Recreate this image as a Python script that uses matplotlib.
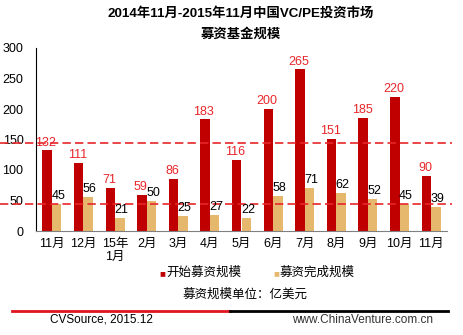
import matplotlib
matplotlib.use("Agg")
import matplotlib.pyplot as plt
import matplotlib.transforms as mtrans
from matplotlib.lines import Line2D
import numpy as np

# Datos del grafico
meses = ["11月", "12月", "15年\n1月", "2月", "3月", "4月", "5月", "6月", "7月", "8月", "9月", "10月", "11月"]
inicio = [132, 111, 71, 59, 86, 183, 116, 200, 265, 151, 185, 220, 90]
completado = [45, 56, 21, 50, 25, 27, 22, 58, 71, 62, 52, 45, 39]

plt.rcParams['font.family'] = ['Liberation Sans', 'Noto Sans CJK SC', 'DejaVu Sans']

rojo = '#C00000'
dorado = '#E6B86E'
rojo_txt = '#E8262A'

fig = plt.figure(figsize=(4.64, 3.35), dpi=100)
ax = fig.add_axes([36/464, 1-231/335, (447-36)/464, (231-48)/335])

x = np.arange(len(meses))
w = 0.3
ax.bar(x - w/2, inicio, width=w, color=rojo, zorder=2)
ax.bar(x + w/2, completado, width=w, color=dorado, zorder=2)

# etiquetas de valores
for i in range(len(meses)):
    ax.text(x[i] - w/2 - 0.04, inicio[i] + 3, str(inicio[i]), ha='center', va='bottom',
            fontsize=9, color=rojo_txt, zorder=4)
    ax.text(x[i] + w/2 + 0.05, completado[i] + 3, str(completado[i]), ha='center', va='bottom',
            fontsize=9, color='black', zorder=4)

# lineas de promedio (de borde a borde de la figura)
trans = mtrans.blended_transform_factory(fig.transFigure, ax.transData)
for val in [np.mean(inicio), np.mean(completado)]:
    ax.add_line(Line2D([0, 452/464], [val, val], transform=trans, color=rojo_txt,
                       linestyle=(0, (5, 2.5)), linewidth=1.2, zorder=3, clip_on=False))

ax.set_xlim(-0.5, len(meses) - 0.5)
ax.set_ylim(0, 300)
ax.set_yticks([0, 50, 100, 150, 200, 250, 300])
ax.set_xticks(x)
ax.set_xticklabels(meses, fontsize=9, linespacing=1.1)
ax.tick_params(axis='both', length=0, labelsize=9)
ax.tick_params(axis='y', pad=9)
ax.tick_params(axis='x', pad=5)
for s in ['top', 'right']:
    ax.spines[s].set_visible(False)
ax.spines['left'].set_color('black')
ax.spines['bottom'].set_color('#808080')

# titulo
fig.text(241/464, 1-13/335, "2014年11月-2015年11月中国VC/PE投资市场", ha='center', va='center',
         fontsize=9.6, fontweight='bold')
fig.text(241/464, 1-34/335, "募资基金规模", ha='center', va='center', fontsize=9.6, fontweight='bold')

# leyenda
fig.text(159/464, 1-273/335, "■", ha='left', va='center', fontsize=7, color=rojo)
fig.text(166/464, 1-273/335, "开始募资规模", ha='left', va='center', fontsize=9)
fig.text(273/464, 1-273/335, "■", ha='left', va='center', fontsize=7, color=dorado)
fig.text(280/464, 1-273/335, "募资完成规模", ha='left', va='center', fontsize=9)

fig.text(245/464, 1-295/335, "募资规模单位：亿美元", ha='center', va='center', fontsize=9)

# pie de pagina
fig.add_artist(Line2D([12/464, 230/464], [1-311/335]*2, color='#E0141E', linewidth=2))
fig.add_artist(Line2D([230/464, 448/464], [1-311/335]*2, color='black', linewidth=2))
fig.text(50/464, 1-320/335, "CVSource, 2015.12", ha='left', va='center', fontsize=8.5)
fig.text(433/464, 1-320/335, "www.ChinaVenture.com.cn", ha='right', va='center', fontsize=8.5, color='#333333')

plt.savefig('out.png', dpi=100)
